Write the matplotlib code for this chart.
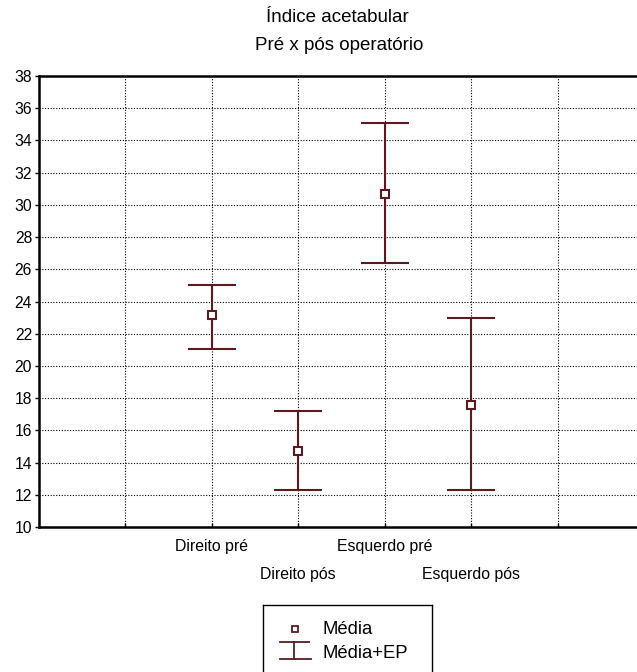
import matplotlib
matplotlib.use("Agg")
import matplotlib.pyplot as plt
from matplotlib.lines import Line2D

plt.rcParams['font.family'] = ['Liberation Sans', 'DejaVu Sans']

# data
groups = ['Direito pré', 'Direito pós', 'Esquerdo pré', 'Esquerdo pós']
positions = [2, 3, 4, 5]
media = [23.15, 14.7, 30.7, 17.6]
lower = [21.05, 12.3, 26.4, 12.3]
upper = [25.05, 17.2, 35.1, 23.0]
yticks = list(range(10, 39, 2))

col = '#5c1a1e'

fig = plt.figure(figsize=(6.37, 6.72), dpi=100)
ax = fig.add_axes([39 / 637, 145 / 672, 605 / 637, 451 / 672])

err = [[m - l for m, l in zip(media, lower)], [u - m for m, u in zip(media, upper)]]
ax.errorbar(positions, media, yerr=err, fmt='s', color=col, ecolor=col,
            elinewidth=1.5, capsize=17, capthick=1.5, ms=6, mfc='white',
            mec=col, mew=1.5, zorder=3)

ax.set_xlim(0, 7)
ax.set_ylim(10, 38)
ax.set_yticks(yticks)
ax.set_xticks([1, 2, 3, 4, 5, 6])
ax.set_xticklabels([])
ax.grid(True, color='black', linestyle=(0, (1, 1.5)), linewidth=0.8)
ax.tick_params(axis='y', labelsize=11.3, length=3, width=1, direction='out', pad=2)
ax.tick_params(axis='x', length=3, width=1, direction='in')
for s in ax.spines.values():
    s.set_linewidth(1.8)

for i, (p, g) in enumerate(zip(positions, groups)):
    yy = -0.044 if i % 2 == 0 else -0.106
    ax.text(p, yy, g, transform=ax.get_xaxis_transform(), ha='center',
            va='center', fontsize=11.4)

fig.text(337 / 637, 1 - 18 / 672, 'Índice acetabular', ha='center', va='center', fontsize=13.5)
fig.text(339 / 637, 1 - 46 / 672, 'Pré x pós operatório', ha='center', va='center', fontsize=13.5)

# legend box
lg = fig.add_axes([263 / 637, -0.05, 169 / 637, 67 / 672 + 0.05])
lg.set_xlim(263, 432)
lg.set_ylim(672 + 0.05 * 672, 605)
lg.set_xticks([])
lg.set_yticks([])
for s in lg.spines.values():
    s.set_linewidth(1.0)
lg.plot([295], [629], marker='s', ms=5, mfc='white', mec=col, mew=1.3)
lg.add_line(Line2D([280, 309], [642, 642], color=col, lw=1.3))
lg.add_line(Line2D([280, 311], [659, 659], color=col, lw=1.3))
lg.add_line(Line2D([294, 294], [642, 659], color=col, lw=1.3))
lg.text(322, 630, 'Média', ha='left', va='center', fontsize=13.3)
lg.text(322, 653, 'Média+EP', ha='left', va='center', fontsize=13.3)

fig.savefig('out.png', dpi=100)
